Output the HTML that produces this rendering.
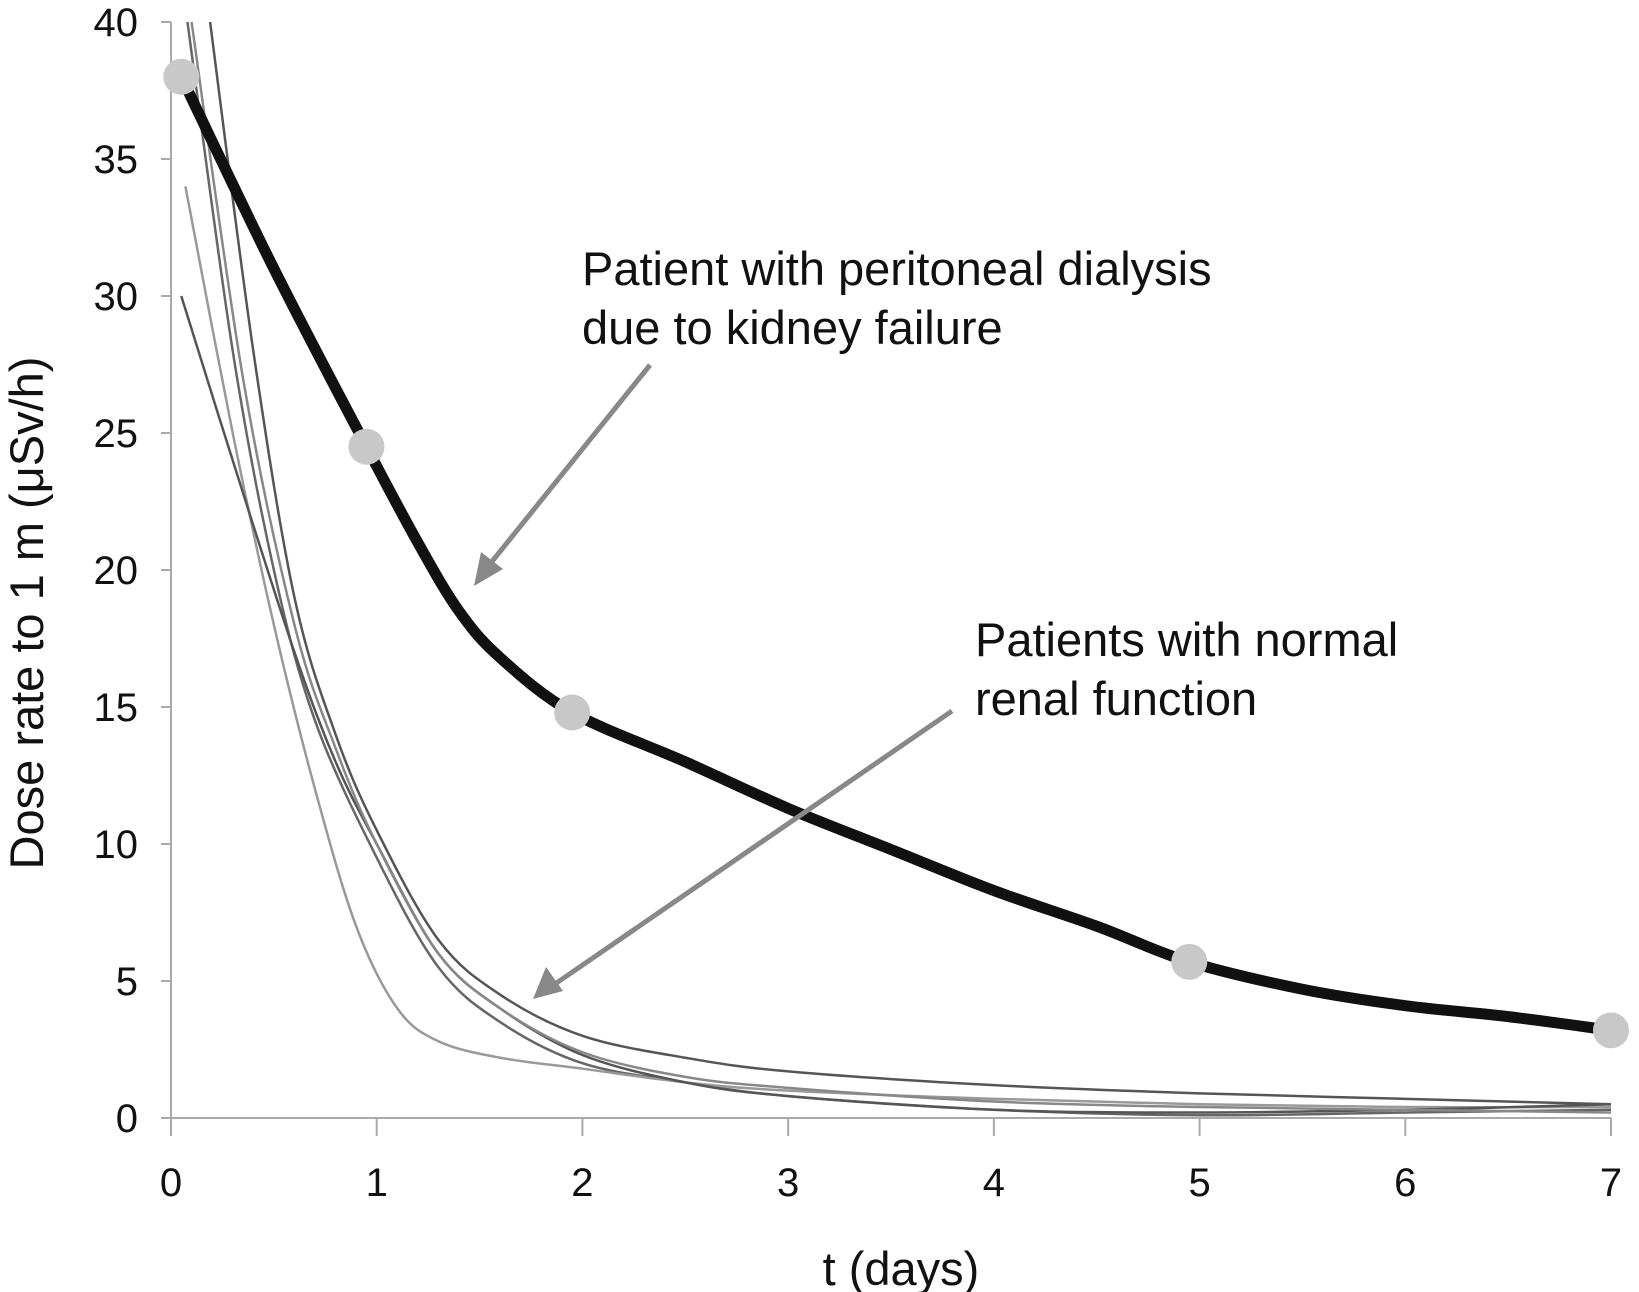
<!DOCTYPE html>
<html><head><meta charset="utf-8"><style>
html,body{margin:0;padding:0;background:#fff;}
svg{display:block;font-family:"Liberation Sans",sans-serif;}
</style></head><body>
<svg id="chart" width="1639" height="1292" xmlns="http://www.w3.org/2000/svg">
<g id="axes"></g>
<g id="thin"></g>
<g id="thick"></g>
<g>
<text x="582" y="285" font-size="47" fill="#111">Patient with peritoneal dialysis</text>
<text x="582" y="344" font-size="47" fill="#111">due to kidney failure</text>
<text x="975" y="656" font-size="47" fill="#111">Patients with normal</text>
<text x="975" y="715" font-size="47" fill="#111">renal function</text>
<line x1="650" y1="365" x2="490" y2="564" stroke="#888" stroke-width="5"/>
<polygon points="474,586 481,552 503,569" fill="#888"/>
<line x1="952" y1="711" x2="555" y2="984" stroke="#888" stroke-width="5"/>
<polygon points="533,999 546,967 563,991" fill="#888"/>
<text x="901" y="1285" font-size="47" text-anchor="middle" fill="#111">t (days)</text>
<text transform="translate(43,613) rotate(-90)" font-size="47" text-anchor="middle" fill="#111">Dose rate to 1 m (μSv/h)</text>
</g>
</svg>
<script>
const xTicks=[0,1,2,3,4,5,6,7];
const yTicks=[0,5,10,15,20,25,30,35,40];
const dialysisT=[0.05,0.5,0.95,1.2,1.4,1.6,1.95,2.5,3,3.5,4,4.5,4.95,5.5,6,6.5,7];
const dialysisV=[38,31,24.5,21,18.5,16.8,14.8,13,11.3,9.8,8.3,7,5.7,4.7,4.1,3.7,3.2];
const markerT=[0.05,0.95,1.95,4.95,7];
const markerV=[38,24.5,14.8,5.7,3.2];
const pA_T=[0.19,0.4,0.6,0.8,1,1.3,1.6,2,2.5,3,4,5,6,7];
const pA_V=[40,28,19,14,10.5,6.5,4.5,3,2.2,1.7,1.2,0.9,0.7,0.5];
const pB_T=[0.08,0.3,0.5,0.7,1,1.3,1.6,2,2.5,3,4,5,6,7];
const pB_V=[40,28,20,14.5,9.5,5.5,3.5,2,1.3,0.8,0.3,0.1,0.2,0.3];
const pC_T=[0.07,0.3,0.5,0.7,0.9,1.1,1.3,1.6,2,2.5,3,4,5,6,7];
const pC_V=[34,25,18,12,7,4,2.8,2.2,1.8,1.3,1,0.7,0.5,0.4,0.4];
const pD_T=[0.05,0.3,0.6,0.8,1,1.3,1.6,2,2.5,3,4,5,6,7];
const pD_V=[30,24,17,13,10,6,4,2.3,1.3,0.8,0.3,0.2,0.3,0.5];
const pE_T=[0.1,0.35,0.6,0.8,1,1.3,1.6,2,2.5,3,4,5,6,7];
const pE_V=[40,27,18,13.5,10,6,4,2.4,1.5,1.1,0.6,0.4,0.3,0.2];

const X0=171,X1=1611,Y0=1118,Y1=22;
const xs=t=>X0+(X1-X0)*t/7;
const ys=v=>Y0-(Y0-Y1)*v/40;
const NS="http://www.w3.org/2000/svg";
function mk(tag,attrs,parent){const e=document.createElementNS(NS,tag);for(const k in attrs)e.setAttribute(k,attrs[k]);parent.appendChild(e);return e;}
function pathD(T,V){
  const p=T.map((t,i)=>[xs(t),ys(Math.min(V[i],40))]);
  let d="M"+p[0][0]+","+p[0][1];
  for(let i=0;i<p.length-1;i++){
    const a=p[Math.max(0,i-1)],b=p[i],c=p[i+1],e=p[Math.min(p.length-1,i+2)];
    d+=" C"+(b[0]+(c[0]-a[0])/6)+","+(b[1]+(c[1]-a[1])/6)+" "+(c[0]-(e[0]-b[0])/6)+","+(c[1]-(e[1]-b[1])/6)+" "+c[0]+","+c[1];
  }
  return d;
}
const ax=document.getElementById('axes');
let el=mk('line',{x1:X0,y1:Y1,x2:X0,y2:Y0,stroke:'#aaa','stroke-width':2},ax);


el=mk('line',{x1:X0-10,y1:Y0,x2:X1,y2:Y0,stroke:'#aaa','stroke-width':2},ax);


yTicks.forEach(v=>{
  const y=ys(v);
  let t=mk('line',{x1:X0-10,y1:y,x2:X0,y2:y,stroke:'#aaa','stroke-width':2},ax);
  
  
  const l=mk('text',{x:138,y:y+14,'font-size':40,'text-anchor':'end',fill:'#111'},ax);
  l.textContent=v;
  
  
});
xTicks.forEach(v=>{
  const x=xs(v);
  let t=mk('line',{x1:x,y1:Y0,x2:x,y2:Y0+18,stroke:'#aaa','stroke-width':2},ax);
  
  
  const l=mk('text',{x:x,y:1196,'font-size':40,'text-anchor':'middle',fill:'#111'},ax);
  l.textContent=v;
  
  
});
const thin=document.getElementById('thin');
[[pA_T,pA_V,'#555'],[pB_T,pB_V,'#666'],[pC_T,pC_V,'#999'],[pD_T,pD_V,'#555'],[pE_T,pE_V,'#888']].forEach(s=>{
  const p=mk('path',{d:pathD(s[0],s[1]),fill:'none',stroke:s[2],'stroke-width':2.5},thin);
  
  
});
const thick=document.getElementById('thick');
const tp=mk('path',{d:pathD(dialysisT,dialysisV),fill:'none',stroke:'#111','stroke-width':11,'stroke-linecap':'round'},thick);


markerT.forEach((t,i)=>{
  const c=mk('circle',{cx:xs(t),cy:ys(markerV[i]),r:18,fill:'#c8c8c8'},thick);
  
  
});
</script>
</body></html>
